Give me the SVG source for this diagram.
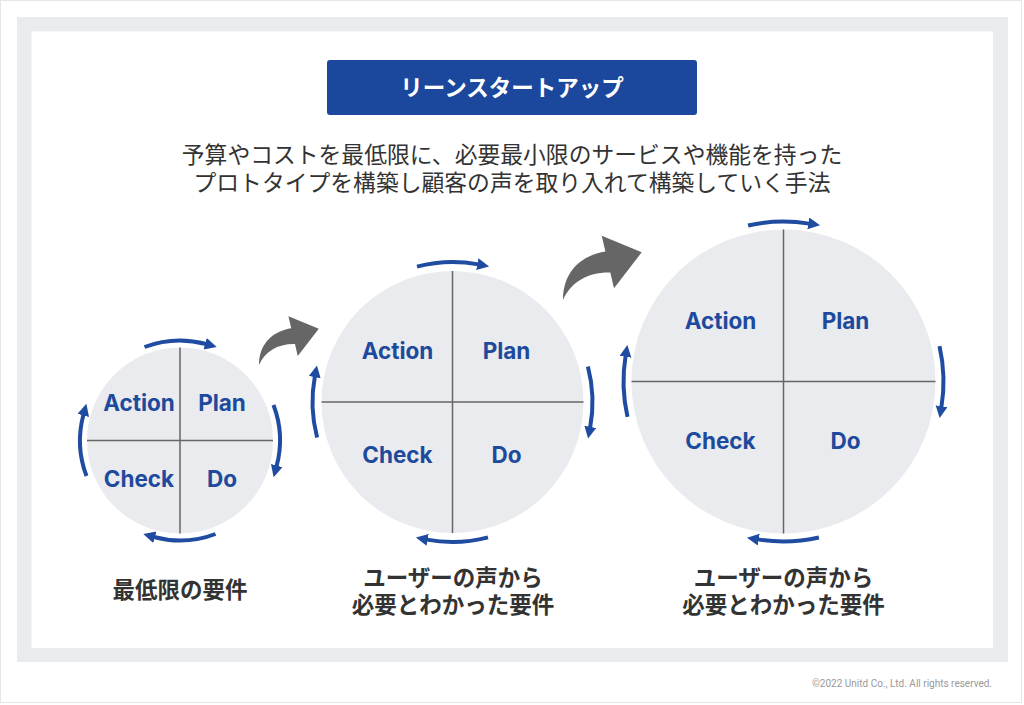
<svg xmlns="http://www.w3.org/2000/svg" xmlns:xlink="http://www.w3.org/1999/xlink" width="1024" height="705" viewBox="0 0 1024 705">
<style>
.jp{font-family:"Noto Sans CJK JP","Noto Sans",sans-serif}
.pd{font-family:Inter,Roboto,"Liberation Sans",sans-serif;font-weight:700;font-size:22.5px;fill:#1d4a9c;text-anchor:middle}
.circ{fill:#e9ebee}
.div{stroke:#666;stroke-width:1.5}
.cyc{fill:none;stroke:#1f4ba0;stroke-width:4;marker-end:url(#ah)}
.lbl{font-weight:700;font-size:22.5px;fill:#333;text-anchor:middle}
.big{fill:#666}
</style>
<defs>
<marker id="ah" markerUnits="userSpaceOnUse" markerWidth="14" markerHeight="14" refX="1" refY="6" orient="auto">
<path d="M0,0 L12,6 L0,12 Z" fill="#1f4ba0"/>
</marker>
<path id="bigArrow" class="big" d="M0,0 C0,-30 20,-45 42.4,-48.5 L38.7,-64.3 L78.7,-47.7 L51,-11.7 L47.3,-27.5 C25,-28 8,-18 0,0 Z"/>
</defs>
<rect x="0.5" y="0.5" width="1021" height="702" fill="#fff" stroke="#e6e6e6"/>
<rect x="17" y="17" width="991" height="645" fill="#e9ecef"/>
<rect x="31.5" y="31.5" width="961.5" height="616.5" fill="#fff"/>

<g id="title">
<rect x="327" y="60" width="370" height="55" rx="3" fill="#1b479d"/>
<text class="jp" x="512" y="95.5" font-size="22.5" font-weight="700" fill="#fff" text-anchor="middle">リーンスタートアップ</text>
</g>
<g id="subtitle" class="jp" font-size="22.8" fill="#333" text-anchor="middle">
<text x="512" y="163">予算やコストを最低限に、必要最小限のサービスや機能を持った</text>
<text x="512" y="191">プロトタイプを構築し顧客の声を取り入れて構築していく手法</text>
</g>

<g id="cycle1">
<circle class="circ" cx="180" cy="440.5" r="93"/>
<line class="div" x1="180" y1="347.5" x2="180" y2="533.5"/>
<line class="div" x1="87" y1="440.5" x2="273" y2="440.5"/>
<text class="pd" x="139" y="411">Action</text>
<text class="pd" x="222" y="411">Plan</text>
<text class="pd" x="139" y="487">Check</text>
<text class="pd" x="222" y="487">Do</text>
<g transform="translate(180,440.5)">
<path id="a1" class="cyc" d="M-35.5,-93.5 A100,100 0 0 1 26.1,-96.5"/>
<use xlink:href="#a1" href="#a1" transform="rotate(90)"/>
<use xlink:href="#a1" href="#a1" transform="rotate(180)"/>
<use xlink:href="#a1" href="#a1" transform="rotate(270)"/>
</g>
<text class="jp lbl" x="180" y="598">最低限の要件</text>
</g>

<g id="cycle2">
<circle class="circ" cx="452.5" cy="402" r="131"/>
<line class="div" x1="452.5" y1="271" x2="452.5" y2="533"/>
<line class="div" x1="321.5" y1="402" x2="583.5" y2="402"/>
<text class="pd" x="397.5" y="359">Action</text>
<text class="pd" x="506.5" y="359">Plan</text>
<text class="pd" x="397.5" y="463">Check</text>
<text class="pd" x="506.5" y="463">Do</text>
<g transform="translate(452.5,402)">
<path id="a2" class="cyc" d="M-35.5,-135.4 A140,140 0 0 1 25.8,-137.6"/>
<use xlink:href="#a2" href="#a2" transform="rotate(90)"/>
<use xlink:href="#a2" href="#a2" transform="rotate(180)"/>
<use xlink:href="#a2" href="#a2" transform="rotate(270)"/>
</g>
<text class="jp lbl" x="453" y="586">ユーザーの声から</text>
<text class="jp lbl" x="453" y="613">必要とわかった要件</text>
</g>

<g id="cycle3">
<circle class="circ" cx="783.5" cy="381.5" r="152"/>
<line class="div" x1="783.5" y1="229.5" x2="783.5" y2="533.5"/>
<line class="div" x1="631.5" y1="381.5" x2="935.5" y2="381.5"/>
<text class="pd" x="720.5" y="329">Action</text>
<text class="pd" x="845.5" y="329">Plan</text>
<text class="pd" x="720.5" y="449">Check</text>
<text class="pd" x="845.5" y="449">Do</text>
<g transform="translate(783.5,381.5)">
<path id="a3" class="cyc" d="M-35.4,-156 A160,160 0 0 1 25.7,-157.9"/>
<use xlink:href="#a3" href="#a3" transform="rotate(90)"/>
<use xlink:href="#a3" href="#a3" transform="rotate(180)"/>
<use xlink:href="#a3" href="#a3" transform="rotate(270)"/>
</g>
<text class="jp lbl" x="783.5" y="586">ユーザーの声から</text>
<text class="jp lbl" x="783.5" y="613">必要とわかった要件</text>
</g>

<g id="connectors">
<use xlink:href="#bigArrow" href="#bigArrow" transform="translate(259,365) scale(0.76)"/>
<use xlink:href="#bigArrow" href="#bigArrow" transform="translate(563,300)"/>
</g>

<text x="992" y="687" font-family="Roboto,'Liberation Sans',sans-serif" font-size="10" fill="#999" text-anchor="end">©2022 Unitd Co., Ltd. All rights reserved.</text>
</svg>
